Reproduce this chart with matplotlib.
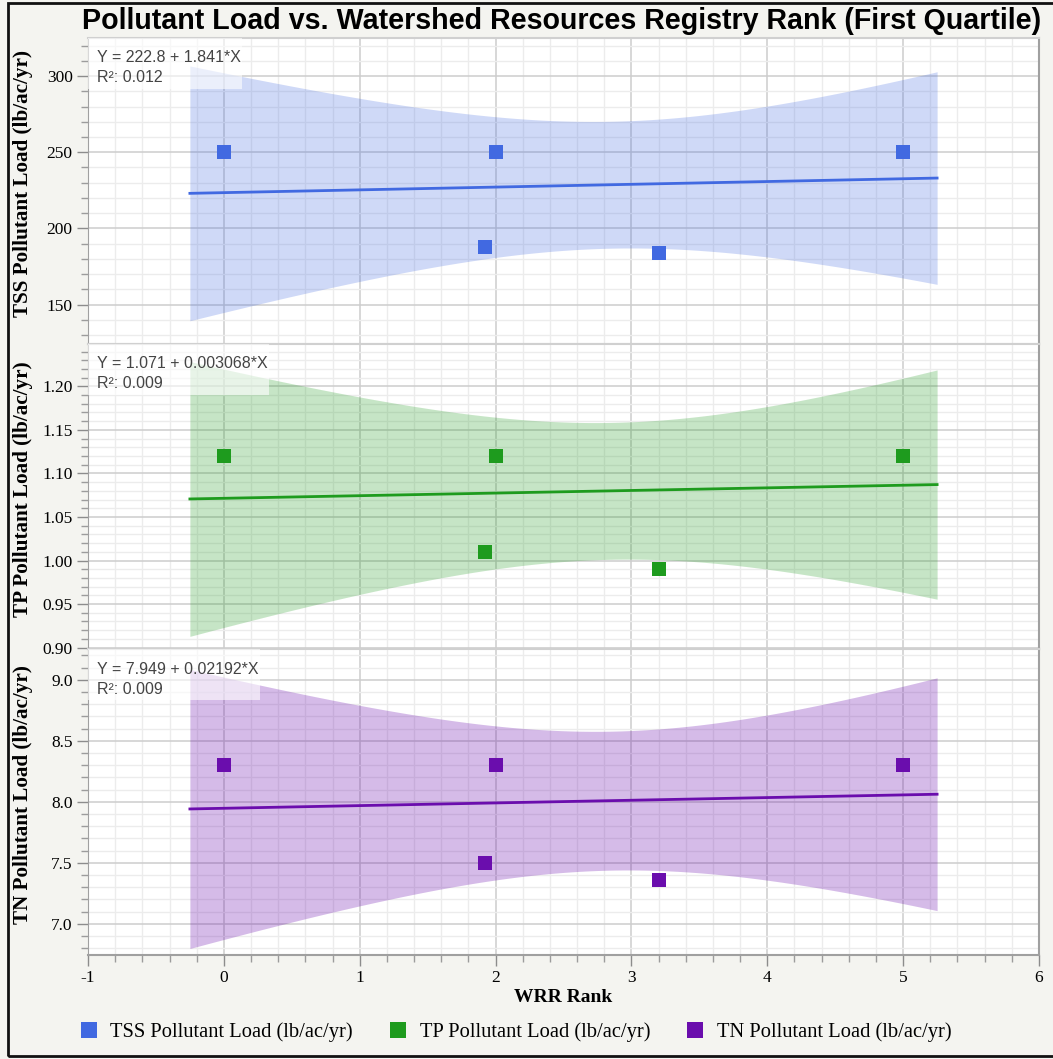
import numpy as np
import matplotlib.pyplot as plt
from matplotlib.patches import Rectangle
from matplotlib.ticker import MultipleLocator, FormatStrFormatter


# Data

wrr_rank = [0.0, 1.925, 2.0, 3.2, 5.0, 5.0]

tss_load = [250, 188, 250, 184, 250, 250]
tp_load = [1.12, 1.01, 1.12, 0.99, 1.12, 1.12]
tn_load = [8.3, 7.5, 8.3, 7.36, 8.3, 8.3]

series_names = [
    "TSS Pollutant Load (lb/ac/yr)",
    "TP Pollutant Load (lb/ac/yr)",
    "TN Pollutant Load (lb/ac/yr)",
]

equation_labels = [
    "Y = 222.8 + 1.841*X",
    "Y = 1.071 + 0.003068*X",
    "Y = 7.949 + 0.02192*X",
]

r2_labels = ["R²: 0.012", "R²: 0.009", "R²: 0.009"]


# Styling

colors = ["#4169e1", "#1e9b1e", "#6a0dad"]
band_alpha = [0.25, 0.25, 0.28]

y_limits = [(124.3, 325.0), (0.898, 1.249), (6.745, 9.25)]
y_major = [50, 0.05, 0.5]
y_minor = [10, 0.01, 0.1]
y_formats = ["%d", "%.2f", "%.1f"]

fit_range = (-0.25, 5.25)
t_crit = 2.776  # t(0.975, df=4)

serif = ["Liberation Serif", "DejaVu Serif"]
sans = ["Liberation Sans", "DejaVu Sans"]

plt.rcParams["font.family"] = serif
plt.rcParams["axes.unicode_minus"] = False

fig, axes = plt.subplots(
    3, 1,
    figsize=(10.53, 10.59),
    sharex=True,
    gridspec_kw=dict(
        left=88 / 1053,
        right=1039 / 1053,
        top=1 - 38 / 1059,
        bottom=1 - 955 / 1059,
        hspace=0.0,
    ),
)

fig.patch.set_facecolor("#f4f4f0")

x = np.array(wrr_rank)
x_fit = np.linspace(fit_range[0], fit_range[1], 200)

all_loads = [tss_load, tp_load, tn_load]

for i, ax in enumerate(axes):
    y = np.array(all_loads[i], dtype=float)
    color = colors[i]

    # Linear fit and 95% confidence band of the mean
    slope, intercept = np.polyfit(x, y, 1)
    resid = y - (intercept + slope * x)
    n = len(x)
    s = np.sqrt(np.sum(resid ** 2) / (n - 2))
    x_mean = x.mean()
    sxx = np.sum((x - x_mean) ** 2)
    y_fit = intercept + slope * x_fit
    se = s * np.sqrt(1.0 / n + (x_fit - x_mean) ** 2 / sxx)

    ax.fill_between(
        x_fit,
        y_fit - t_crit * se,
        y_fit + t_crit * se,
        color=color,
        alpha=band_alpha[i],
        linewidth=0,
        zorder=2,
    )

    ax.plot(x_fit, y_fit, color=color, linewidth=2.0, zorder=4)

    ax.plot(
        x, y,
        linestyle="none",
        marker="s",
        markersize=9.4,
        color=color,
        markeredgewidth=0,
        zorder=5,
        label=series_names[i],
    )

    ax.set_facecolor("white")
    ax.set_xlim(-1, 6)
    ax.set_ylim(*y_limits[i])

    ax.yaxis.set_major_locator(MultipleLocator(y_major[i]))
    ax.yaxis.set_minor_locator(MultipleLocator(y_minor[i]))
    ax.yaxis.set_major_formatter(FormatStrFormatter(y_formats[i]))
    ax.xaxis.set_major_locator(MultipleLocator(1))
    ax.xaxis.set_minor_locator(MultipleLocator(0.2))

    ax.set_axisbelow(True)
    ax.grid(which="major", color="#cdcdcd", linewidth=1.1)
    ax.grid(which="minor", color="#ececec", linewidth=1.0)

    ax.tick_params(axis="y", which="major", length=8, width=1,
                   color="#8c8c8c", labelsize=12.5, pad=3)
    ax.tick_params(axis="y", which="minor", length=5, width=1,
                   color="#9c9c9c")

    if i < 2:
        ax.tick_params(axis="x", which="both", length=0,
                       labelbottom=False)
    else:
        ax.tick_params(axis="x", which="major", length=8, width=1,
                       color="#8c8c8c", labelsize=12.5, pad=3)
        ax.tick_params(axis="x", which="minor", length=5, width=1,
                       color="#9c9c9c")

    ax.spines["left"].set_color("#a0a0a0")
    ax.spines["right"].set_color("#a0a0a0")
    ax.spines["right"].set_linewidth(1.5)
    ax.spines["top"].set_color("#d0d0d0")
    ax.spines["top"].set_linewidth(1.5)
    ax.spines["bottom"].set_color("#d0d0d0" if i < 2 else "#a0a0a0")
    ax.spines["bottom"].set_linewidth(1.5)

    ax.set_ylabel(
        series_names[i],
        fontsize=15.2,
        fontweight="bold",
        family=serif,
    )
    ax.yaxis.set_label_coords(-0.058, 0.525)

    # Fit equation in the top left corner
    ax.annotate(
        equation_labels[i],
        xy=(0, 1), xycoords="axes fraction",
        xytext=(9, -20), textcoords="offset pixels",
        ha="left", va="center",
        fontsize=11.5, color="#444444", family=sans, zorder=7,
    )
    ax.annotate(
        r2_labels[i],
        xy=(0, 1), xycoords="axes fraction",
        xytext=(9, -40), textcoords="offset pixels",
        ha="left", va="center",
        fontsize=11.5, color="#444444", family=sans, zorder=7,
    )

axes[2].set_xlabel("WRR Rank", fontsize=14, fontweight="bold", labelpad=2)

# White translucent boxes behind the equation text
fig.canvas.draw()
renderer = fig.canvas.get_renderer()
for ax in axes:
    eq_text = ax.texts[0]
    ext = eq_text.get_window_extent(renderer)
    ax_box = ax.get_window_extent(renderer)
    width = (ext.x1 + 1 - ax_box.x0) / ax_box.width
    height = 51 / ax_box.height
    ax.add_patch(
        Rectangle(
            (0, 1 - height), width, height,
            transform=ax.transAxes,
            facecolor="white",
            edgecolor="none",
            alpha=0.6,
            zorder=6,
        )
    )

fig.text(
    0.533, 1 - 21 / 1059,
    "Pollutant Load vs. Watershed Resources Registry Rank (First Quartile)",
    ha="center", va="center",
    fontsize=20.6, fontweight="bold", family=sans,
)

handles = [ax.get_lines()[1] for ax in axes]
fig.legend(
    handles, series_names,
    loc="center",
    bbox_to_anchor=(0.489, 1 - 1032 / 1059),
    ncol=3,
    frameon=False,
    fontsize=14.8,
    markerscale=1.15,
    handlelength=1.0,
    handletextpad=0.55,
    columnspacing=1.7,
)

# Dark frame around the whole chart
fig.patches.append(
    Rectangle(
        (8 / 1053, 1 - 1056 / 1059),
        1.2, 1053 / 1059,
        transform=fig.transFigure,
        fill=False,
        edgecolor="#111111",
        linewidth=2.0,
    )
)

fig.savefig("out.png", dpi=100, facecolor=fig.get_facecolor())
